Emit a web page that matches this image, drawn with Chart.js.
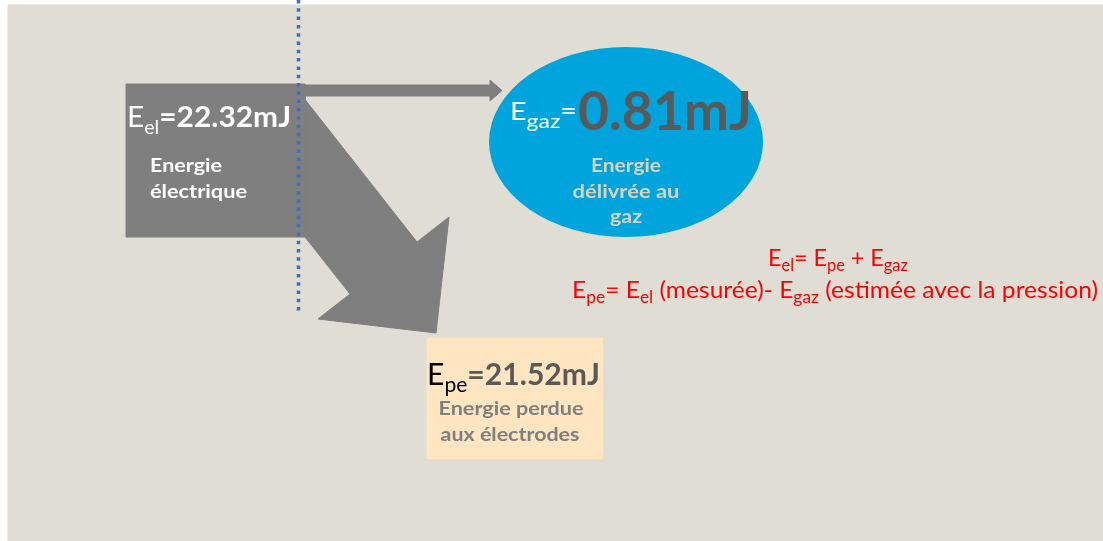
<!DOCTYPE html>
<html>
<head>
<meta charset="utf-8">
<script src="https://cdn.jsdelivr.net/npm/chart.js@4.4.1/dist/chart.umd.min.js"></script>
<style>
  body { margin: 0; background: #fff; }
  #wrap { width: 1103px; height: 541px; position: relative; }
</style>
</head>
<body>
<div id="wrap"><canvas id="diagram"></canvas></div>
<script>
// energies (mJ)
const energyNames = ['el', 'gaz', 'pe'];
const energyValues = [22.32, 0.81, 21.52];
const energyUnit = 'mJ';
const descriptions = [
    ['Energie', 'électrique'],
    ['Energie', 'délivrée au', 'gaz'],
    ['Energie perdue', 'aux électrodes']
];

// layout of the shapes, in page units
const bgBox = [[8, 5], [1103, 5], [1103, 541], [8, 541], [8, 5]];
const elBox = [[126, 84], [305, 84], [305, 237], [126, 237], [126, 84]];
const gazArrow = [[304, 85], [490, 85], [490, 80], [502, 90.5], [490, 101], [490, 96], [304, 96], [304, 85]];
const peArrow = [[303, 97], [417, 242], [449, 217], [436, 333], [318, 319], [350, 294], [305, 237], [303, 97]];
const peBox = [[427, 338], [602, 338], [602, 459], [427, 459], [427, 338]];
const limitLine = [[298.5, 0], [298.5, 312]];
const gazEllipse = { x: 626, y: 142, rx: 137, ry: 95 };

const pts = arr => arr.map(p => ({ x: p[0], y: p[1] }));

function shape(data, color, order) {
    return {
        data: pts(data),
        showLine: true,
        fill: 'shape',
        backgroundColor: color,
        borderColor: color,
        borderWidth: 1,
        pointRadius: 0,
        tension: 0,
        order: order
    };
}

const FONT = 'Lato, "Open Sans", sans-serif';

// draw a row of text pieces; sub = subscript; fitted to a width
function drawRuns(ctx, runs, x, y, align, width) {
    let total = 0;
    runs.forEach(r => {
        ctx.font = r.w + ' ' + r.s + 'px ' + FONT;
        r.width = ctx.measureText(r.t).width;
        total += r.width;
    });
    const sx = width ? width / total : 1;
    let start = x;
    if (align === 'center') start = x - total * sx / 2;
    ctx.save();
    ctx.translate(start, y);
    ctx.scale(sx, 1);
    ctx.textBaseline = 'alphabetic';
    ctx.textAlign = 'left';
    let cx = 0;
    runs.forEach(r => {
        ctx.font = r.w + ' ' + r.s + 'px ' + FONT;
        ctx.fillStyle = r.c;
        ctx.fillText(r.t, cx, r.dy || 0);
        cx += r.width;
    });
    ctx.restore();
}

function fmt(i) {
    return '=' + energyValues[i].toFixed(2) + energyUnit;
}

const diagramPlugin = {
    id: 'diagram',
    beforeDatasetsDraw(chart) {
        const ctx = chart.ctx;
        ctx.save();
        ctx.fillStyle = '#ffffff';
        ctx.fillRect(0, 0, chart.width, chart.height);
        ctx.restore();
    },
    afterDatasetsDraw(chart) {
        const ctx = chart.ctx;
        const X = v => chart.scales.x.getPixelForValue(v);
        const Y = v => chart.scales.y.getPixelForValue(v);

        // blue ellipse for the gas
        ctx.save();
        ctx.fillStyle = '#00a4dc';
        ctx.beginPath();
        ctx.ellipse(X(gazEllipse.x), Y(gazEllipse.y),
            X(gazEllipse.x + gazEllipse.rx) - X(gazEllipse.x),
            Y(gazEllipse.y + gazEllipse.ry) - Y(gazEllipse.y), 0, 0, Math.PI * 2);
        ctx.fill();
        ctx.restore();

        // E_el
        drawRuns(ctx, [
            { t: 'E', s: 29, w: 'normal', c: '#ffffff' },
            { t: energyNames[0], s: 19, w: 'normal', c: '#ffffff', dy: 7 },
            { t: fmt(0), s: 29, w: 'bold', c: '#ffffff' }
        ], X(127), Y(127), 'left', 164);
        drawRuns(ctx, [{ t: descriptions[0][0], s: 18, w: 'bold', c: '#ffffff' }], X(150), Y(172), 'left', 72);
        drawRuns(ctx, [{ t: descriptions[0][1], s: 18, w: 'bold', c: '#ffffff' }], X(150), Y(198), 'left', 97);

        // E_gaz
        drawRuns(ctx, [
            { t: 'E', s: 25, w: 'normal', c: '#ffffff' },
            { t: energyNames[1], s: 20, w: 'normal', c: '#ffffff', dy: 8 },
            { t: '=', s: 25, w: 'normal', c: '#ffffff' }
        ], X(510), Y(120), 'left', 67);
        drawRuns(ctx, [{ t: fmt(1).slice(1), s: 53, w: 'bold', c: '#595959' }], X(578), Y(130), 'left', 174);
        const gazLines = [172, 198, 223];
        const gazW = [70, 107, 32];
        descriptions[1].forEach((line, i) => {
            drawRuns(ctx, [{ t: line, s: 18, w: 'bold', c: '#d8d2bf' }], X(626), Y(gazLines[i]), 'center', gazW[i]);
        });

        // E_pe
        drawRuns(ctx, [
            { t: 'E', s: 30, w: 'normal', c: '#000000' },
            { t: energyNames[2], s: 21, w: 'normal', c: '#000000', dy: 7 },
            { t: fmt(2), s: 30, w: 'bold', c: '#595959' }
        ], X(427), Y(385), 'left', 173);
        drawRuns(ctx, [{ t: descriptions[2][0], s: 18, w: 'bold', c: '#7f7f7f' }], X(511), Y(415), 'center', 145);
        drawRuns(ctx, [{ t: descriptions[2][1], s: 18, w: 'bold', c: '#7f7f7f' }], X(510), Y(441), 'center', 139);

        // formulas
        const red = '#ff0000';
        const sub = t => ({ t: t, s: 17, w: 'normal', c: red, dy: 5 });
        const txt = t => ({ t: t, s: 24, w: 'normal', c: red });
        drawRuns(ctx, [
            txt('E'), sub('el'), txt('= E'), sub('pe'), txt(' + E'), sub('gaz')
        ], X(838), Y(266), 'center', 140);
        drawRuns(ctx, [
            txt('E'), sub('pe'), txt('= E'), sub('el'), txt(' (mesurée)- E'), sub('gaz'),
            txt(' (estimée avec la pression)')
        ], X(835), Y(298), 'center', 526);
    }
};

const ctx = document.getElementById('diagram');
new Chart(ctx, {
    type: 'scatter',
    data: {
        datasets: [
            {
                data: pts(limitLine),
                showLine: true,
                borderColor: '#3f6fc0',
                borderWidth: 3.5,
                borderDash: [3.5, 4.8],
                borderCapStyle: 'butt',
                pointRadius: 0,
                order: 0
            },
            shape(peBox, '#ffe6c1', 1),
            shape(elBox, '#7f7f7f', 2),
            shape(gazArrow, '#7f7f7f', 3),
            shape(peArrow, '#7f7f7f', 4),
            shape(bgBox, '#e0ddd5', 5)
        ]
    },
    options: {
        responsive: true,
        maintainAspectRatio: false,
        animation: false,
        events: [],
        layout: { padding: 0 },
        scales: {
            x: { type: 'linear', min: 0, max: 1103, display: false },
            y: { type: 'linear', min: 0, max: 541, reverse: true, display: false }
        },
        plugins: {
            legend: { display: false },
            tooltip: { enabled: false }
        }
    },
    plugins: [diagramPlugin]
});
</script>
</body>
</html>
